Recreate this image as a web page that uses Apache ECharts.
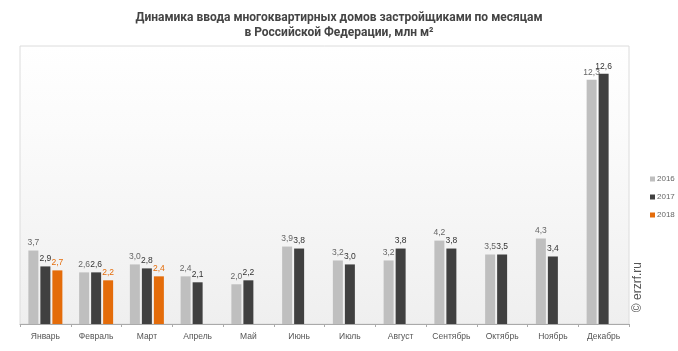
<!DOCTYPE html>
<html>
<head>
<meta charset="utf-8">
<script src="https://cdn.jsdelivr.net/npm/echarts@6/dist/echarts.min.js"></script>
<style>
html,body{margin:0;padding:0;background:#fff;}
#chart{width:678px;height:351px;}
</style>
</head>
<body>
<div id="chart"></div>
<script>
var months = ['Январь','Февраль','Март','Апрель','Май','Июнь','Июль','Август','Сентябрь','Октябрь','Ноябрь','Декабрь'];
var y2016 = [3.7, 2.6, 3.0, 2.4, 2.0, 3.9, 3.2, 3.2, 4.2, 3.5, 4.3, 12.3];
var y2017 = [2.9, 2.6, 2.8, 2.1, 2.2, 3.8, 3.0, 3.8, 3.8, 3.5, 3.4, 12.6];
var y2018 = [2.7, 2.2, 2.4, null, null, null, null, null, null, null, null, null];

function commaLabel(color){
    return {
        show: true,
        position: 'top',
        distance: 3,
        fontFamily: 'Liberation Sans',
        fontSize: 8.5,
        color: color,
        formatter: function(p){ return p.value == null ? '' : p.value.toFixed(1).replace('.', ','); }
    };
}

var chart = echarts.init(document.getElementById('chart'));
chart.setOption({
    animation: false,
    title: {
        text: 'Динамика ввода многоквартирных домов застройщиками по месяцам\nв Российской Федерации, млн м²',
        left: 'center',
        top: 5,
        textStyle: {
            fontFamily: 'Roboto',
            fontSize: 12,
            fontWeight: 'bold',
            color: '#444',
            lineHeight: 15
        }
    },
    legend: {
        orient: 'vertical',
        left: 645,
        top: 170,
        itemWidth: 5,
        itemHeight: 5,
        itemGap: 10,
        icon: 'rect',
        textStyle: {fontFamily: 'Liberation Sans', fontSize: 8, color: '#666', padding: [0,0,0,-3]},
        data: ['2016','2017','2018']
    },
    graphic: [{
        type: 'text',
        left: 632,
        top: 262,
        rotation: Math.PI / 2,
        style: {text: '© erzrf.ru', fontFamily: 'Liberation Sans', fontSize: 12, fill: '#555'}
    }],
    grid: {
        left: 20,
        right: 49,
        top: 46,
        bottom: 27,
        show: true,
        borderColor: '#dcdcdc',
        borderWidth: 1,
        backgroundColor: new echarts.graphic.LinearGradient(0, 0, 0, 1, [
            {offset: 0, color: '#ffffff'},
            {offset: 0.3, color: '#fbfbfb'},
            {offset: 1, color: '#efefef'}
        ])
    },
    xAxis: {
        type: 'category',
        data: months,
        axisLine: {lineStyle: {color: '#aaa'}},
        axisTick: {show: true, length: 3, lineStyle: {color: '#aaa'}},
        axisLabel: {interval: 0, fontFamily: 'Liberation Sans', fontSize: 8.5, color: '#555', margin: 8}
    },
    yAxis: {
        type: 'value',
        min: 0,
        max: 14,
        show: false,
        splitLine: {show: false}
    },
    series: [
        {name: '2016', type: 'bar', data: y2016, barGap: '20%', barCategoryGap: '33%',
         itemStyle: {color: '#bfbfbf'}, label: commaLabel('#666')},
        {name: '2017', type: 'bar', data: y2017,
         itemStyle: {color: '#404040'}, label: commaLabel('#333')},
        {name: '2018', type: 'bar', data: y2018,
         itemStyle: {color: '#e46c0a'}, label: commaLabel('#e46c0a')}
    ]
});
</script>
</body>
</html>
